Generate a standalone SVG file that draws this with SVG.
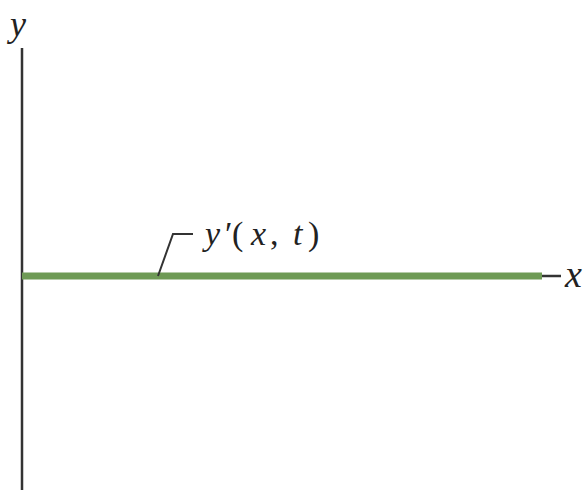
<svg xmlns="http://www.w3.org/2000/svg" width="587" height="495" viewBox="0 0 587 495">
<style>
.ax{stroke:#333;stroke-width:2.5;fill:none}
</style>
<rect width="587" height="495" fill="#fff"/>
<g id="y-axis">
<line class="ax" x1="22" y1="48" x2="22" y2="490"/>
<text font-family="Liberation Serif" font-style="italic" fill="#222" x="10" y="36" font-size="36">y</text>
</g>
<g id="x-axis">
<line class="ax" x1="540" y1="276" x2="561" y2="276"/>
<text font-family="Liberation Serif" font-style="italic" fill="#222" x="565" y="287" font-size="38">x</text>
</g>
<g id="wave">
<line x1="22" y1="276" x2="542" y2="276" stroke="#6e9a55" stroke-width="7"/>
</g>
<g id="connectors">
<polyline points="158,276 173,234 193,234" fill="none" stroke="#333" stroke-width="2"/>
</g>
<g id="label">
<text font-family="Liberation Serif" fill="#222" y="245" font-size="34"><tspan font-style="italic" x="205">y</tspan><tspan x="225">′</tspan><tspan x="232">(</tspan><tspan font-style="italic" x="251">x</tspan><tspan x="270">,</tspan><tspan font-style="italic" x="293">t</tspan><tspan x="308">)</tspan></text>
</g>
</svg>
